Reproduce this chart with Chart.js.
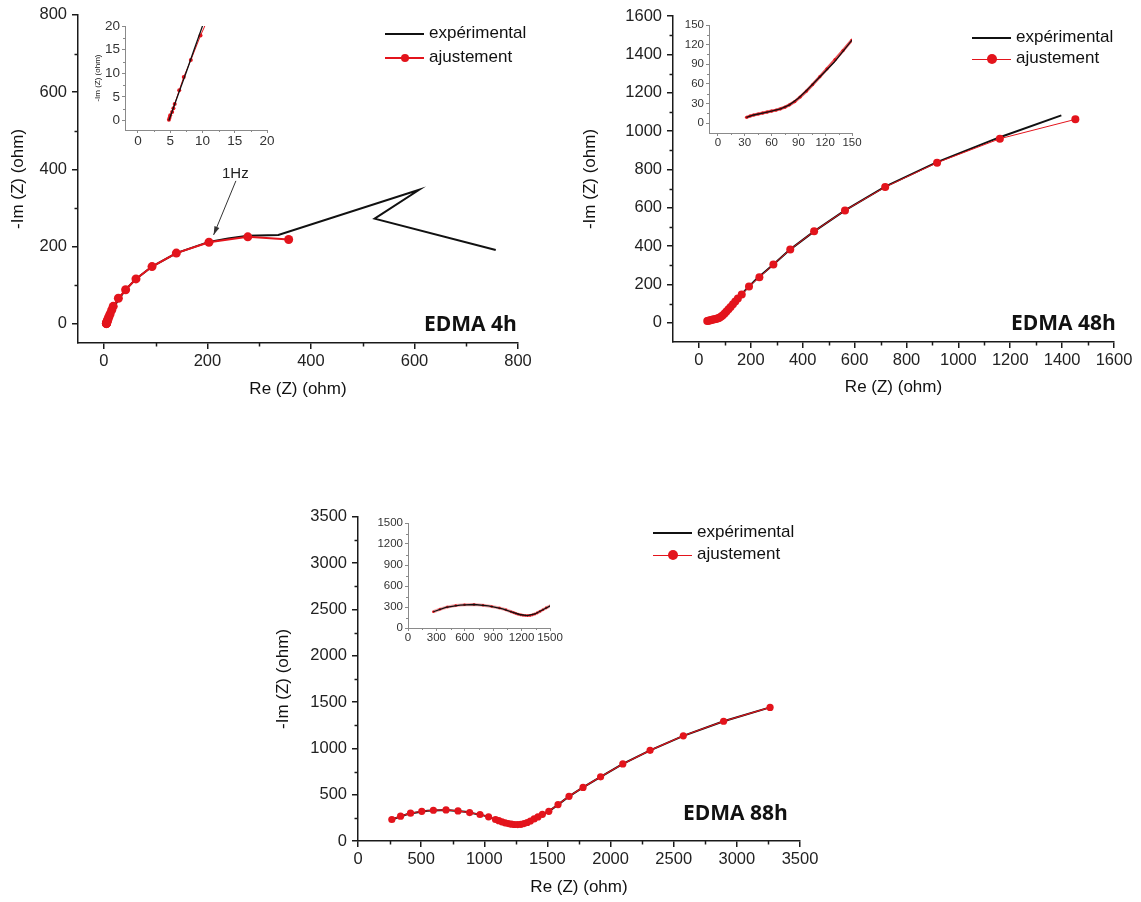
<!DOCTYPE html>
<html>
<head>
<meta charset="utf-8">
<script src="https://cdn.jsdelivr.net/npm/chart.js@4.4.1/dist/chart.umd.min.js"></script>
<style>
  body { margin: 0; background: #fff; width: 1141px; height: 902px; position: relative; overflow: hidden;
         font-family: "Liberation Sans", Arial, sans-serif; }
  canvas { position: absolute; }
  .txt { position: absolute; white-space: nowrap; color: #111; }
  .lgline { position: absolute; height: 2px; }
  .lgdot { position: absolute; border-radius: 50%; }
  .edma { position: absolute; font-family: "Open Sans", sans-serif; font-weight: 700; font-size: 21px; line-height: 21px; color: #111; }
</style>
</head>
<body>
<canvas id="c4h"></canvas>
<canvas id="c48h"></canvas>
<canvas id="c88h"></canvas>
<canvas id="i4h"></canvas>
<canvas id="i48h"></canvas>
<canvas id="i88h"></canvas>
<script>
// noms des séries et des panneaux
const seriesNames = ['expérimental', 'ajustement'];
const panelNames = ['EDMA 4h', 'EDMA 48h', 'EDMA 88h'];

// EDMA 4h (Re, -Im en ohm)
const exp4hRe = [4.8, 5.5, 6.5, 7.5, 8.7, 10, 13, 17, 22, 29, 42, 62, 93, 140, 203, 240, 278, 337, 609, 523, 757];
const exp4hIm = [0, 2.7, 6.5, 10.3, 15, 20, 28, 38, 49, 64, 88, 116, 148, 183, 212, 221, 228, 230, 347, 272, 191];
const fit4hRe = [4.8, 4.9, 5.0, 5.3, 5.5, 5.7, 6.4, 7.1, 8.2, 9.7, 12, 15, 18, 28, 42, 62, 93, 140, 203, 278, 357];
const fit4hIm = [0.15, 0.6, 1.1, 1.8, 2.6, 3.5, 6.4, 9.2, 12.8, 18, 25, 35, 45, 66, 88, 116, 148, 183, 211, 225, 218];

// EDMA 48h
const exp48hRe = [32, 40, 50, 60, 70, 80, 90, 100, 115, 130, 150, 180, 220, 287, 352, 444, 563, 718, 918, 1160, 1397];
const exp48hIm = [9, 12.5, 15.5, 18.5, 22, 28, 38, 51, 72, 93, 127, 172, 226, 304, 383, 477, 586, 710, 838, 968, 1082];
const fit48hRe = [32, 36, 40, 45, 50, 55, 60, 65, 70, 75, 80, 86, 92, 99, 106, 114, 122, 131, 140, 150, 165, 193, 233, 287, 352, 444, 563, 718, 918, 1160, 1451];
const fit48hIm = [9, 11, 12.5, 14, 15.5, 17, 18.5, 20, 22, 24.5, 28, 33, 40, 49, 59, 71, 83, 97, 111, 127, 148, 190, 238, 304, 383, 477, 586, 708, 835, 960, 1061];

// EDMA 88h
const exp88hRe = [268, 400, 550, 700, 850, 1000, 1100, 1180, 1260, 1340, 1420, 1511, 1584, 1671, 1782, 1921, 2097, 2313, 2576, 2895, 3263];
const exp88hIm = [232, 295, 327, 336, 315, 274, 228, 193, 178, 200, 257, 321, 393, 482, 579, 693, 832, 979, 1136, 1293, 1443];
const fit88hRe = [268, 337, 416, 505, 597, 697, 792, 884, 966, 1034, 1089, 1115, 1140, 1165, 1190, 1215, 1240, 1265, 1290, 1315, 1340, 1365, 1395, 1425, 1460, 1511, 1584, 1671, 1782, 1921, 2097, 2313, 2576, 2895, 3263];
const fit88hIm = [232, 268, 300, 321, 332, 336, 325, 307, 286, 261, 232, 220, 207, 196, 188, 182, 178, 177, 180, 188, 200, 216, 238, 260, 288, 321, 393, 482, 579, 693, 832, 979, 1136, 1293, 1443];

// flèche 1Hz (queue, pointe)
const hzArrowRe = [255, 212];
const hzArrowIm = [370, 230];

// graduations
const ticks4h = [0, 200, 400, 600, 800];
const ticksIn4h = [0, 5, 10, 15, 20];
const ticks48h = [0, 200, 400, 600, 800, 1000, 1200, 1400, 1600];
const ticksIn48h = [0, 30, 60, 90, 120, 150];
const ticks88h = [0, 500, 1000, 1500, 2000, 2500, 3000, 3500];
const ticksIn88h = [0, 300, 600, 900, 1200, 1500];

const FONT = '"Liberation Sans", Arial, sans-serif';
const RED = '#e3141c';
const BLACK = '#111';

const pts = (re, im) => re.map((x, i) => ({ x: x, y: im[i] }));

// petites graduations intermédiaires
const minorTicks = {
    id: 'minorTicks',
    afterDraw(chart, args, o) {
        const ctx = chart.ctx;
        ctx.save();
        ctx.strokeStyle = o.color;
        ctx.lineWidth = o.width;
        for (const s of [chart.scales.x, chart.scales.y]) {
            const v = s.ticks.map(t => t.value);
            const half = (v[1] - v[0]) / 2;
            for (let m = v[0] - half; m < s.max; m += half * 2) {
                if (m <= s.min) continue;
                const p = Math.round(s.getPixelForValue(m)) + 0.5;
                ctx.beginPath();
                if (s.isHorizontal()) { ctx.moveTo(p, s.top); ctx.lineTo(p, s.top + o.len); }
                else { ctx.moveTo(s.right, p); ctx.lineTo(s.right - o.len, p); }
                ctx.stroke();
            }
        }
        ctx.restore();
    }
};

// flèche d'annotation
const arrowNote = {
    id: 'arrowNote',
    afterDatasetsDraw(chart, args, o) {
        if (!o.re) return;
        const sx = chart.scales.x, sy = chart.scales.y;
        const x0 = sx.getPixelForValue(o.re[0]), y0 = sy.getPixelForValue(o.im[0]);
        const x1 = sx.getPixelForValue(o.re[1]), y1 = sy.getPixelForValue(o.im[1]);
        const a = Math.atan2(y1 - y0, x1 - x0);
        const ctx = chart.ctx;
        ctx.save();
        ctx.strokeStyle = '#333';
        ctx.fillStyle = '#333';
        ctx.lineWidth = 1;
        ctx.beginPath(); ctx.moveTo(x0, y0); ctx.lineTo(x1, y1); ctx.stroke();
        ctx.beginPath();
        ctx.moveTo(x1, y1);
        ctx.lineTo(x1 - 9 * Math.cos(a - 0.3), y1 - 9 * Math.sin(a - 0.3));
        ctx.lineTo(x1 - 9 * Math.cos(a + 0.3), y1 - 9 * Math.sin(a + 0.3));
        ctx.closePath(); ctx.fill();
        ctx.restore();
    }
};

function axis(min, max, tickList, o) {
    return {
        type: 'linear', min: min, max: max,
        afterBuildTicks: s => { s.ticks = tickList.map(v => ({ value: v })); },
        afterFit: s => { if (s.isHorizontal()) s.height = o.size; else s.width = o.size; },
        grid: { drawOnChartArea: false, drawTicks: true, tickLength: o.tl, color: o.color, lineWidth: o.lw },
        border: { display: true, color: o.color, width: o.lw },
        ticks: { color: o.text, font: { family: FONT, size: o.fs }, padding: o.pad,
                 callback: v => String(v), maxRotation: 0, autoSkip: false },
        title: o.title
            ? { display: true, text: o.title, color: '#111', font: { family: FONT, size: o.tfs }, padding: 4 }
            : { display: false }
    };
}

// area = zone de tracé voulue (px page), m = marges autour
function panel(id, area, m, xr, yr, xt, yt, style, datasets, extra) {
    const cv = document.getElementById(id);
    const w = area.r - area.l + m.yw + m.pr;
    const h = area.b - area.t + m.pt + m.xh;
    cv.width = w; cv.height = h;
    cv.style.left = (area.l - m.yw) + 'px';
    cv.style.top = (area.t - m.pt) + 'px';
    cv.style.width = w + 'px'; cv.style.height = h + 'px';
    return new Chart(cv, {
        type: 'scatter',
        data: { datasets: datasets },
        options: {
            responsive: false, animation: false, events: [],
            layout: { padding: { top: m.pt, right: m.pr, left: 0, bottom: 0 } },
            scales: {
                x: axis(xr[0], xr[1], xt, Object.assign({ size: m.xh, pad: style.xpad, title: style.xtitle }, style)),
                y: axis(yr[0], yr[1], yt, Object.assign({ size: m.yw, pad: style.ypad, title: style.ytitle }, style))
            },
            plugins: Object.assign({
                legend: { display: false }, tooltip: { enabled: false },
                minorTicks: { color: style.color, width: style.lw, len: style.mlen }
            }, extra || {})
        },
        plugins: [minorTicks, arrowNote]
    });
}

const mainStyle = { color: '#1a1a1a', text: '#222', lw: 1.5, tl: 6, mlen: 3.5, fs: 16.5, tfs: 17,
                    xpad: 3, ypad: 5, xtitle: 'Re (Z) (ohm)', ytitle: '-Im (Z) (ohm)' };

function mainSets(expRe, expIm, fitRe, fitIm, r, fitW) {
    return [
        { data: pts(fitRe, fitIm), showLine: true, borderColor: RED, backgroundColor: RED,
          borderWidth: fitW, pointRadius: r, pointBorderWidth: 0, order: 0 },
        { data: pts(expRe, expIm), showLine: true, borderColor: BLACK, backgroundColor: BLACK,
          borderWidth: 2, pointRadius: 0, order: 1 }
    ];
}
function insetSets(expRe, expIm, fitRe, fitIm, r, fitW, fitCol) {
    return [
        { data: pts(expRe, expIm), showLine: true, borderColor: BLACK, backgroundColor: BLACK,
          borderWidth: 1.3, pointRadius: 0, order: 0 },
        { data: pts(fitRe, fitIm), showLine: true, borderColor: fitCol, backgroundColor: RED,
          borderWidth: fitW, pointRadius: r, pointBorderWidth: 0, order: 1 }
    ];
}

// graphes principaux
panel('c4h', { l: 78, r: 518, t: 13, b: 343 }, { yw: 74, xh: 61, pt: 13, pr: 22 },
      [-50, 800], [-50, 800], ticks4h, ticks4h, mainStyle,
      mainSets(exp4hRe, exp4hIm, fit4hRe, fit4hIm, 4.5, 2),
      { arrowNote: { re: hzArrowRe, im: hzArrowIm } });
panel('c48h', { l: 673, r: 1114, t: 16, b: 342 }, { yw: 97, xh: 60, pt: 16, pr: 24 },
      [-100, 1600], [-100, 1600], ticks48h, ticks48h, mainStyle,
      mainSets(exp48hRe, exp48hIm, fit48hRe, fit48hIm, 4, 1));
panel('c88h', { l: 358, r: 800, t: 514, b: 841 }, { yw: 89, xh: 61, pt: 12, pr: 24 },
      [0, 3500], [0, 3500], ticks88h, ticks88h, mainStyle,
      mainSets(exp88hRe, exp88hIm, fit88hRe, fit88hIm, 3.6, 1.2));

// encarts
const insetStyle = { color: '#8a8a8a', text: '#333', lw: 1, tl: 3, mlen: 2, fs: 11.5, tfs: 8,
                     xpad: 0, ypad: 2, xtitle: null, ytitle: null };
panel('i4h', { l: 125, r: 267, t: 26, b: 130 }, { yw: 36, xh: 24, pt: 10, pr: 10 },
      [-2, 20], [-2, 20], ticksIn4h, ticksIn4h,
      Object.assign({}, insetStyle, { fs: 13.5, ytitle: '-Im (Z) (ohm)' }),
      insetSets(exp4hRe, exp4hIm, fit4hRe, fit4hIm, 2, 1, RED));
panel('i48h', { l: 709, r: 852, t: 25, b: 133 }, { yw: 32, xh: 20, pt: 9, pr: 12 },
      [-10, 150], [-15, 150], ticksIn48h, ticksIn48h, insetStyle,
      insetSets(exp48hRe, exp48hIm, fit48hRe, fit48hIm, 1.6, 3, 'rgba(227,20,28,0.75)'));
panel('i88h', { l: 408, r: 550, t: 523, b: 628 }, { yw: 36, xh: 20, pt: 9, pr: 14 },
      [0, 1500], [0, 1500], ticksIn88h, ticksIn88h, insetStyle,
      insetSets(exp88hRe, exp88hIm, fit88hRe, fit88hIm, 1.3, 3, 'rgba(227,20,28,0.4)'));

// légendes et étiquettes en HTML
function addDiv(cls, css, text) {
    const d = document.createElement('div');
    d.className = cls;
    Object.assign(d.style, css);
    if (text) d.textContent = text;
    document.body.appendChild(d);
    return d;
}
const legends = [{ x: 385, y: 34, gap: 24, fitW: 2, dot: 4 },
                 { x: 972, y: 38, gap: 21, fitW: 1, dot: 5 },
                 { x: 653, y: 533, gap: 22, fitW: 1, dot: 5 }];
legends.forEach(L => {
    addDiv('lgline', { left: L.x + 'px', top: (L.y - 1) + 'px', width: '39px', background: BLACK });
    addDiv('lgline', { left: L.x + 'px', top: (L.y + L.gap - L.fitW / 2) + 'px', width: '39px',
                       height: L.fitW + 'px', background: RED });
    addDiv('lgdot', { left: (L.x + 19.5 - L.dot) + 'px', top: (L.y + L.gap - L.dot) + 'px',
                      width: (2 * L.dot) + 'px', height: (2 * L.dot) + 'px', background: RED });
    seriesNames.forEach((name, i) => {
        addDiv('txt', { left: (L.x + 44) + 'px', top: (L.y + i * L.gap - 11.5) + 'px',
                        fontSize: '17px', lineHeight: '20px' }, name);
    });
});
const edmaPos = [{ x: 424, y: 324 }, { x: 1011, y: 323 }, { x: 683, y: 813 }];
panelNames.forEach((t, i) => {
    addDiv('edma', { left: edmaPos[i].x + 'px', top: (edmaPos[i].y - 11) + 'px' }, t);
});
addDiv('txt', { left: '222px', top: '164px', fontSize: '15px', lineHeight: '18px', color: '#222' }, '1Hz');
</script>
</body>
</html>
